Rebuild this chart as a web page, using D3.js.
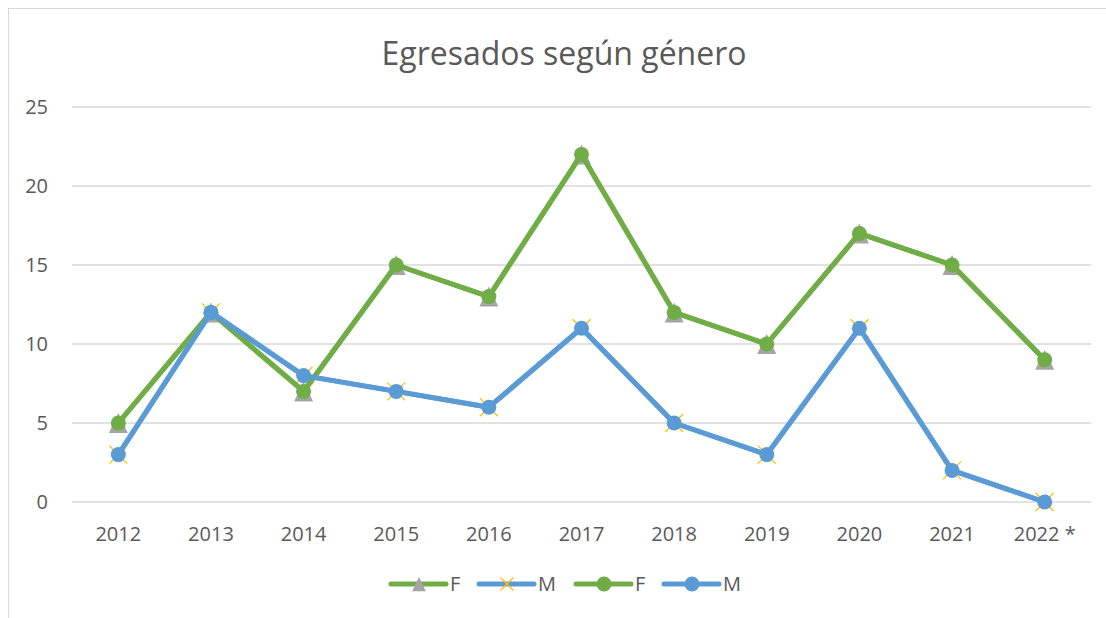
<!DOCTYPE html>
<html>
<head>
<meta charset="utf-8">
<script src="https://d3js.org/d3.v7.min.js"></script>
<style>
  body { margin: 0; background: #fff; }
  text { font-family: "Open Sans", "Noto Sans", sans-serif; fill: #595959; }
</style>
</head>
<body>
<script>
// chart data
var years = ["2012", "2013", "2014", "2015", "2016", "2017", "2018", "2019", "2020", "2021", "2022 *"];
var female = [5, 12, 7, 15, 13, 22, 12, 10, 17, 15, 9];
var male = [3, 12, 8, 7, 6, 11, 5, 3, 11, 2, 0];
var yTicks = [0, 5, 10, 15, 20, 25];
var seriesNames = ["F", "M", "F", "M"];

var width = 1106, height = 618;

var svg = d3.select("body").append("svg")
    .attr("width", width)
    .attr("height", height);

// chart border
svg.append("rect")
    .attr("x", 8.5).attr("y", 8.5)
    .attr("width", width + 10).attr("height", height + 10)
    .attr("fill", "none")
    .attr("stroke", "#d9d9d9");

var x = d3.scaleBand().domain(years).range([72, 1091]);
var y = d3.scaleLinear().domain([0, 25]).range([502, 107]);

// gridlines
svg.selectAll(".grid")
    .data(yTicks)
    .enter().append("line")
    .attr("x1", 72).attr("x2", 1091)
    .attr("y1", function(d) { return y(d); })
    .attr("y2", function(d) { return y(d); })
    .attr("stroke", "#d9d9d9")
    .attr("stroke-width", 1.3);

// y labels
svg.selectAll(".ylab")
    .data(yTicks)
    .enter().append("text")
    .attr("x", 48)
    .attr("y", function(d) { return y(d); })
    .attr("dy", "0.35em")
    .attr("text-anchor", "end")
    .style("font-size", "20px")
    .text(function(d) { return d; });

// x labels
svg.selectAll(".xlab")
    .data(years)
    .enter().append("text")
    .attr("x", function(d) { return x(d) + x.bandwidth() / 2; })
    .attr("y", 541)
    .attr("text-anchor", "middle")
    .style("font-size", "20px")
    .text(function(d) { return d; });

// title
svg.append("text")
    .attr("x", 564)
    .attr("y", 65)
    .attr("text-anchor", "middle")
    .style("font-size", "32px")
    .text("Egresados según género");

var green = "#70ad47", blue = "#5b9bd5";
var px = function(d, i) { return x(years[i]) + x.bandwidth() / 2; };

var line = d3.line()
    .x(function(d, i) { return px(d, i); })
    .y(function(d) { return y(d); });

// markers, k = size factor (legend uses smaller ones)
function triangle(g, cx, cy, k) {
    var h = 10 * k, w = 9.5 * k;
    g.append("path")
        .attr("d", "M" + cx + "," + (cy - h) + "L" + (cx + w) + "," + (cy + h) + "L" + (cx - w) + "," + (cy + h) + "Z")
        .attr("fill", "#a5a5a5");
}
function cross(g, cx, cy, k) {
    var r = 9 * k;
    g.append("path")
        .attr("d", "M" + (cx - r) + "," + (cy - r) + "L" + (cx + r) + "," + (cy + r) + "M" + (cx + r) + "," + (cy - r) + "L" + (cx - r) + "," + (cy + r))
        .attr("stroke", "#ffc000")
        .attr("stroke-width", 1.3);
}
function dot(color) {
    return function(g, cx, cy) {
        g.append("circle").attr("cx", cx).attr("cy", cy).attr("r", 7.5).attr("fill", color);
    };
}

var series = [
    { values: female, color: green, marker: triangle },
    { values: male, color: blue, marker: cross },
    { values: female, color: green, marker: dot(green) },
    { values: male, color: blue, marker: dot(blue) }
];

series.forEach(function(s) {
    var g = svg.append("g");
    g.append("path")
        .datum(s.values)
        .attr("d", line)
        .attr("fill", "none")
        .attr("stroke", s.color)
        .attr("stroke-width", 5)
        .attr("stroke-linejoin", "round")
        .attr("stroke-linecap", "round");
    s.values.forEach(function(v, i) {
        s.marker(g, px(v, i), y(v), 1);
    });
});

// legend
var legendX = [391, 479, 576, 664];
series.forEach(function(s, i) {
    var g = svg.append("g");
    var lx = legendX[i], ly = 584;
    g.append("line")
        .attr("x1", lx).attr("x2", lx + 55)
        .attr("y1", ly).attr("y2", ly)
        .attr("stroke", s.color)
        .attr("stroke-width", 5)
        .attr("stroke-linecap", "round");
    s.marker(g, lx + 28, ly, 0.72);
    g.append("text")
        .attr("x", lx + 59)
        .attr("y", ly)
        .attr("dy", "0.35em")
        .style("font-size", "20px")
        .text(seriesNames[i]);
});
</script>
</body>
</html>
